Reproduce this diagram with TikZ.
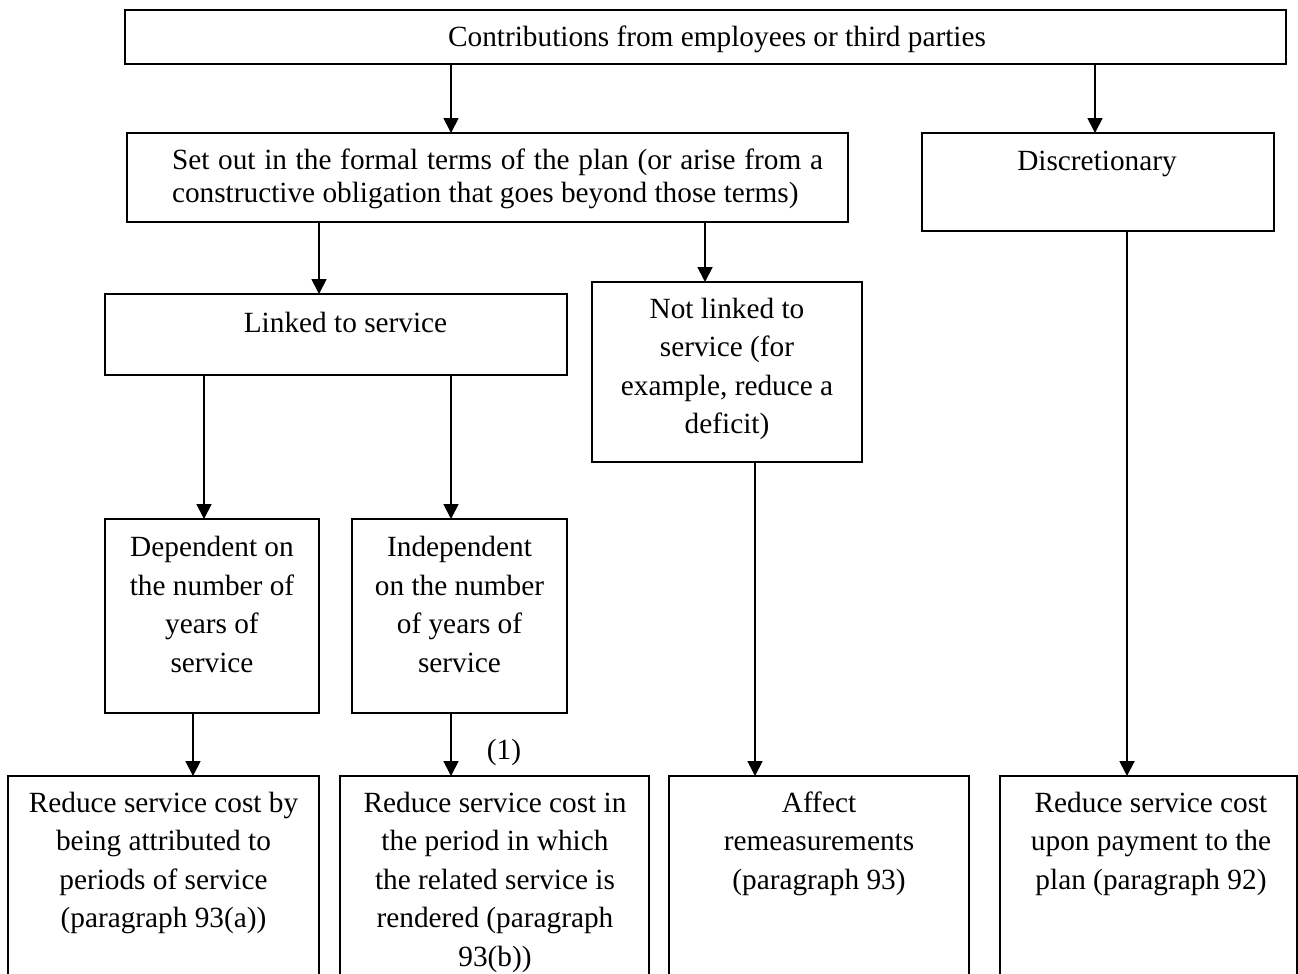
\documentclass[tikz,border=0pt]{standalone}
\usepackage{fontspec}
\setmainfont{Liberation Serif}
\usetikzlibrary{arrows.meta}
\newcommand{\fsmain}{\fontsize{29.3pt}{38.6pt}\selectfont}
\newcommand{\fstight}{\fontsize{29.3pt}{33pt}\selectfont}
\newcommand{\lstrut}{\rule{0pt}{24pt}}
\begin{document}
\begin{tikzpicture}[x=1pt,y=-1pt,
  boxnode/.style={draw, line width=1.4pt, inner sep=0pt, outer sep=0pt},
  lbl/.style={anchor=north, inner sep=0pt, outer sep=0pt, align=center, font=\fsmain},
  arr/.style={line width=1.8pt, -{Triangle[width=15pt,length=15pt]}}
]
\useasboundingbox (0,0) rectangle (1298,974);
\clip (0,0) rectangle (1298,974);

% boxes
\node[boxnode, minimum width=1161pt, minimum height=54pt] (top) at (705.5,37) {};
\node[boxnode, minimum width=721pt, minimum height=89pt] (setout) at (487.5,177.5) {};
\node[boxnode, minimum width=352pt, minimum height=98pt] (disc) at (1098,182) {};
\node[boxnode, minimum width=462pt, minimum height=81pt] (linked) at (336,334.5) {};
\node[boxnode, minimum width=270pt, minimum height=180pt] (notlinked) at (727,372) {};
\node[boxnode, minimum width=214pt, minimum height=194pt] (dep) at (212,616) {};
\node[boxnode, minimum width=215pt, minimum height=194pt] (indep) at (459.5,616) {};
\node[boxnode, minimum width=311pt, minimum height=234pt] (b1) at (163.5,893) {};
\node[boxnode, minimum width=309pt, minimum height=234pt] (b2) at (494.5,893) {};
\node[boxnode, minimum width=300pt, minimum height=234pt] (b3) at (819,893) {};
\node[boxnode, minimum width=297pt, minimum height=234pt] (b4) at (1148.5,893) {};

% texts
\node[lbl] (ttop) at (717,22.5) {\lstrut Contributions from employees or third parties};
\node[anchor=north west, inner sep=0pt, outer sep=0pt, align=left, font=\fstight] (tsetout) at (172,145)
  {\lstrut\makebox[651pt][s]{Set out in the formal terms of the plan (or arise from a}\\constructive obligation that goes beyond those terms)};
\node[lbl] (tdisc) at (1097,146.5) {\lstrut Discretionary};
\node[lbl] (tlinked) at (345.5,308) {\lstrut Linked to service};
\node[lbl] (tnotlinked) at (727,294) {\lstrut Not linked to\\service (for\\example, reduce a\\deficit)};
\node[lbl] (tdep) at (212,532.5) {\lstrut Dependent on\\the number of\\years of\\service};
\node[lbl] (tindep) at (459.5,532.5) {\lstrut Independent\\on the number\\of years of\\service};
\node[lbl] (tb1) at (163.5,788) {\lstrut Reduce service cost by\\being attributed to\\periods of service\\(paragraph 93(a))};
\node[lbl] (tb2) at (495,788) {\lstrut Reduce service cost in\\the period in which\\the related service is\\rendered (paragraph\\93(b))};
\node[lbl] (tb3) at (819,788) {\lstrut Affect\\remeasurements\\(paragraph 93)};
\node[lbl] (tb4) at (1151,788) {\lstrut Reduce service cost\\upon payment to the\\plan (paragraph 92)};
\node[lbl] (tone) at (504,735) {\lstrut (1)};

% connector x positions
\coordinate (xa) at (451,0);
\coordinate (xb) at (1095,0);
\coordinate (xc) at (319,0);
\coordinate (xd) at (705,0);
\coordinate (xe) at (204,0);
\coordinate (xf) at (451,0);
\coordinate (xg) at (193,0);
\coordinate (xh) at (451,0);
\coordinate (xi) at (755,0);
\coordinate (xj) at (1127,0);

% connectors
\draw[arr] (top.south -| xa) -- (setout.north -| xa);
\draw[arr] (top.south -| xb) -- (disc.north -| xb);
\draw[arr] (setout.south -| xc) -- (linked.north -| xc);
\draw[arr] (setout.south -| xd) -- (notlinked.north -| xd);
\draw[arr] (linked.south -| xe) -- (dep.north -| xe);
\draw[arr] (linked.south -| xf) -- (indep.north -| xf);
\draw[arr] (dep.south -| xg) -- (b1.north -| xg);
\draw[arr] (indep.south -| xh) -- (b2.north -| xh);
\draw[arr] (notlinked.south -| xi) -- (b3.north -| xi);
\draw[arr] (disc.south -| xj) -- (b4.north -| xj);
\end{tikzpicture}
\end{document}
